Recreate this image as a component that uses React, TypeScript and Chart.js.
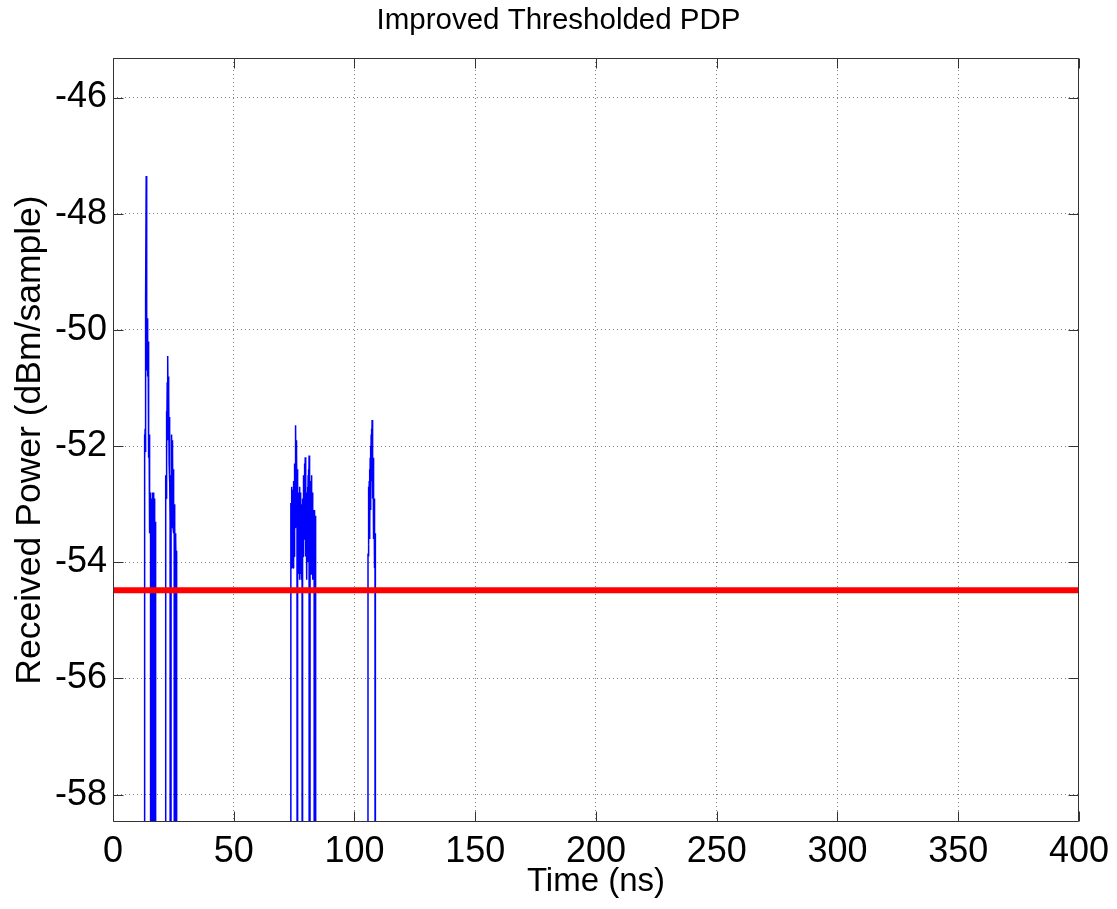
import React, { useEffect, useRef } from "react";
import { Chart, registerables } from "chart.js";

Chart.register(...registerables);

const chartTitle = "Improved Thresholded PDP";
const xAxisTitle = "Time (ns)";
const yAxisTitle = "Received Power (dBm/sample)";

const xTickValues = [0, 50, 100, 150, 200, 250, 300, 350, 400];
const yTickValues = [-58, -56, -54, -52, -50, -48, -46];
const xRange = [0, 400];
const yRange = [-58.47, -45.32];

const thresholdDbm = -54.48;
// samples below the threshold are discarded (plotted far below the axis)
const discardedDbm = -100;

// [time ns, power dBm/sample]
const clusterA: [number, number][] = [
  [12.9, -100], [13.0, -52.2], [13.1, -51.8], [13.2, -52.2], [13.3, -51.7], [13.4, -52.1],
  [13.5, -51.8], [13.6, -49.5], [13.75, -47.35], [13.85, -50.6], [13.95, -49.7], [14.05, -50.7],
  [14.15, -49.8], [14.25, -50.6], [14.35, -49.9], [14.45, -50.8], [14.55, -50.2], [14.65, -51.0],
  [14.75, -51.7], [14.85, -52.2], [14.95, -51.8], [15.05, -52.3], [15.15, -52.9], [15.25, -53.5],
  [15.35, -52.8], [15.45, -53.5], [15.55, -52.9], [15.65, -53.6], [15.75, -100], [15.85, -53.5],
  [15.95, -52.9], [16.05, -53.7], [16.15, -52.9], [16.25, -100], [16.35, -53.6], [16.45, -52.8],
  [16.55, -53.7], [16.65, -100], [16.75, -53.0], [16.85, -52.8], [16.95, -53.6], [17.05, -52.9],
  [17.15, -53.8], [17.25, -53.1], [17.35, -53.9], [17.45, -53.3], [17.55, -54.0], [17.65, -53.6],
  [17.75, -100],
];

const clusterB: [number, number][] = [
  [21.7, -100], [21.8, -55.2], [21.85, -52.5], [21.95, -52.9], [22.05, -52.3], [22.15, -52.8],
  [22.25, -51.4], [22.35, -52.2], [22.45, -50.9], [22.55, -51.9], [22.65, -50.7], [22.75, -50.45],
  [22.85, -51.6], [22.95, -50.8], [23.05, -51.9], [23.15, -51.1], [23.25, -52.3], [23.35, -51.5],
  [23.45, -52.6], [23.55, -52.5], [23.65, -53.3], [23.75, -52.5], [23.85, -53.5], [23.95, -100],
  [24.05, -53.4], [24.15, -52.6], [24.25, -53.3], [24.35, -51.8], [24.45, -52.9], [24.55, -51.9],
  [24.65, -53.2], [24.75, -52.1], [24.85, -53.4], [24.95, -52.4], [25.05, -53.5], [25.15, -52.8],
  [25.25, -53.4], [25.35, -53.0], [25.45, -53.5], [25.55, -100], [25.65, -53.4], [25.75, -54.0],
  [25.85, -53.5], [25.95, -54.1], [26.05, -53.6], [26.15, -54.15], [26.25, -53.8], [26.35, -54.1],
  [26.45, -100],
];

const clusterC: [number, number][] = [
  [73.5, -100], [73.6, -54.2], [73.7, -52.98], [73.8, -54.1], [73.9, -52.9], [74.0, -53.9],
  [74.1, -52.7], [74.2, -54.0], [74.3, -52.8], [74.4, -53.8], [74.5, -52.75], [74.6, -54.1],
  [74.7, -52.9], [74.8, -53.7], [74.9, -52.6], [75.0, -53.9], [75.1, -52.5], [75.2, -53.6],
  [75.3, -52.3], [75.4, -53.4], [75.5, -52.2], [75.6, -53.1], [75.7, -51.64], [75.8, -52.9],
  [75.9, -51.9], [76.0, -53.2], [76.1, -52.1], [76.2, -53.4], [76.3, -52.4], [76.4, -53.6],
  [76.5, -100], [76.6, -53.8], [76.7, -52.8], [76.8, -54.1], [76.9, -52.9], [77.0, -54.2],
  [77.1, -53.0], [77.2, -54.0], [77.3, -52.7], [77.4, -54.3], [77.5, -52.9], [77.6, -54.1],
  [77.7, -52.8], [77.8, -54.2], [77.9, -53.1], [78.0, -54.3], [78.1, -53.0], [78.2, -54.0],
  [78.3, -53.2], [78.4, -100], [78.5, -54.1], [78.6, -52.9], [78.7, -53.9], [78.8, -52.6],
  [78.9, -53.8], [79.0, -52.5], [79.1, -53.6], [79.2, -52.4], [79.3, -53.5], [79.4, -52.3],
  [79.5, -53.3], [79.6, -52.19], [79.7, -53.4], [79.8, -52.5], [79.9, -53.9], [80.0, -52.8],
  [80.1, -54.1], [80.2, -53.0], [80.3, -54.3], [80.4, -52.9], [80.5, -54.0], [80.6, -52.7],
  [80.7, -53.8], [80.8, -52.5], [80.9, -53.6], [81.0, -52.4], [81.1, -53.3], [81.2, -52.16],
  [81.3, -53.2], [81.4, -52.7], [81.5, -100], [81.6, -54.1], [81.7, -52.8], [81.8, -54.0],
  [81.9, -52.6], [82.0, -54.2], [82.1, -52.5], [82.2, -53.9], [82.3, -52.6], [82.4, -54.1],
  [82.5, -52.8], [82.6, -54.3], [82.7, -53.0], [82.8, -54.0], [82.9, -53.1], [83.0, -54.2],
  [83.1, -53.3], [83.2, -54.1], [83.3, -53.4], [83.35, -100], [83.45, -53.9], [83.55, -53.1],
  [83.65, -54.0], [83.75, -53.2], [83.85, -53.9], [83.95, -53.3], [84.05, -53.8], [84.15, -100],
];

const clusterD: [number, number][] = [
  [105.5, -100], [105.6, -53.85], [105.7, -52.9], [105.8, -53.9], [105.9, -52.7], [106.0, -53.7],
  [106.1, -52.6], [106.2, -53.6], [106.3, -52.4], [106.4, -53.4], [106.5, -52.2], [106.6, -53.1],
  [106.7, -52.0], [106.8, -52.8], [106.9, -51.8], [107.0, -52.6], [107.1, -51.7], [107.2, -52.3],
  [107.3, -51.55], [107.4, -52.4], [107.5, -51.9], [107.6, -52.9], [107.7, -52.2], [107.8, -53.2],
  [107.9, -52.5], [108.0, -53.6], [108.1, -52.9], [108.2, -53.9], [108.3, -53.2], [108.4, -54.1],
  [108.5, -53.5], [108.6, -54.25], [108.7, -100],
];

const FONT = "'Liberation Sans', Arial, Helvetica, sans-serif";

const frameAndTicks = {
  id: "frameAndTicks",
  afterDraw(chart: any) {
    const { ctx, chartArea: a, scales } = chart;
    const xs = scales.x;
    const ys = scales.y;
    const len = 10;
    ctx.save();
    ctx.strokeStyle = "#333333";
    ctx.lineWidth = 1;
    const L = Math.round(a.left) + 0.5;
    const R = Math.round(a.right) - 0.5;
    const T = Math.round(a.top) + 0.5;
    const B = Math.round(a.bottom) - 0.5;
    ctx.beginPath();
    ctx.rect(L, T, R - L, B - T);
    xs.ticks.forEach((t: any) => {
      const px = Math.round(xs.getPixelForValue(t.value)) + 0.5;
      ctx.moveTo(px, B);
      ctx.lineTo(px, B - len);
      ctx.moveTo(px, T);
      ctx.lineTo(px, T + len);
    });
    ys.ticks.forEach((t: any) => {
      const py = Math.round(ys.getPixelForValue(t.value)) + 0.5;
      ctx.moveTo(L, py);
      ctx.lineTo(L + len, py);
      ctx.moveTo(R, py);
      ctx.lineTo(R - len, py);
    });
    ctx.stroke();
    ctx.restore();
  },
};

export default function App() {
  const canvasRef = useRef<HTMLCanvasElement | null>(null);

  useEffect(() => {
    if (!canvasRef.current) return;
    const toPoints = (c: [number, number][]) => c.map(([x, y]) => ({ x, y }));
    const pdpPoints = [
      { x: xRange[0], y: discardedDbm },
      ...toPoints(clusterA),
      ...toPoints(clusterB),
      ...toPoints(clusterC),
      ...toPoints(clusterD),
      { x: xRange[1], y: discardedDbm },
    ];
    const chart = new Chart(canvasRef.current, {
      type: "line",
      data: {
        datasets: [
          {
            label: "Threshold",
            data: [
              { x: xRange[0], y: thresholdDbm },
              { x: xRange[1], y: thresholdDbm },
            ],
            borderColor: "#ff0000",
            borderWidth: 6,
            pointRadius: 0,
            order: 0,
          },
          {
            label: "PDP",
            data: pdpPoints,
            borderColor: "#0000ff",
            borderWidth: 1.5,
            pointRadius: 0,
            tension: 0,
            borderJoinStyle: "bevel",
            order: 1,
          },
        ],
      },
      options: {
        responsive: false,
        maintainAspectRatio: false,
        animation: false,
        layout: { padding: 0 },
        plugins: {
          legend: { display: false },
          tooltip: { enabled: false },
          title: {
            display: true,
            text: chartTitle,
            color: "#000000",
            font: { family: FONT, size: 29.5, weight: "normal", lineHeight: 1.2 },
            padding: { top: 3.1, bottom: 19.5 },
          },
        },
        scales: {
          x: {
            type: "linear",
            min: xRange[0],
            max: xRange[1],
            afterFit: (s: any) => {
              s.height = 87;
            },
            afterBuildTicks: (s: any) => {
              s.ticks = xTickValues.map((v) => ({ value: v }));
            },
            grid: { color: "#808080", lineWidth: 1, drawTicks: false },
            border: { display: false, dash: [1, 3] },
            ticks: {
              color: "#000000",
              font: { family: FONT, size: 36 },
              padding: 8,
              maxRotation: 0,
              autoSkip: false,
            },
            title: {
              display: true,
              text: xAxisTitle,
              color: "#000000",
              font: { family: FONT, size: 33, lineHeight: 1.2 },
              padding: { top: 0, bottom: 7 },
            },
          },
          y: {
            type: "linear",
            min: yRange[0],
            max: yRange[1],
            afterFit: (s: any) => {
              s.width = 113;
            },
            afterBuildTicks: (s: any) => {
              s.ticks = yTickValues.map((v) => ({ value: v }));
            },
            grid: { color: "#808080", lineWidth: 1, drawTicks: false },
            border: { display: false, dash: [1, 3] },
            ticks: {
              color: "#000000",
              font: { family: FONT, size: 36 },
              padding: 6,
              autoSkip: false,
            },
            title: {
              display: true,
              text: yAxisTitle,
              color: "#000000",
              font: { family: FONT, size: 35.5, lineHeight: 1.2 },
              padding: { top: 8.7, bottom: 0 },
            },
          },
          rightMargin: {
            type: "linear",
            position: "right",
            display: true,
            afterFit: (s: any) => {
              s.width = 37;
            },
            grid: { display: false, drawTicks: false },
            border: { display: false },
            ticks: { display: false },
            title: { display: false },
          },
        },
      },
      plugins: [frameAndTicks],
    } as any);
    return () => chart.destroy();
  }, []);

  return (
    <div style={{ position: "absolute", left: 0, top: 0, width: 1117, height: 909, background: "#ffffff" }}>
      <canvas ref={canvasRef} width={1117} height={909} style={{ display: "block" }} />
    </div>
  );
}
